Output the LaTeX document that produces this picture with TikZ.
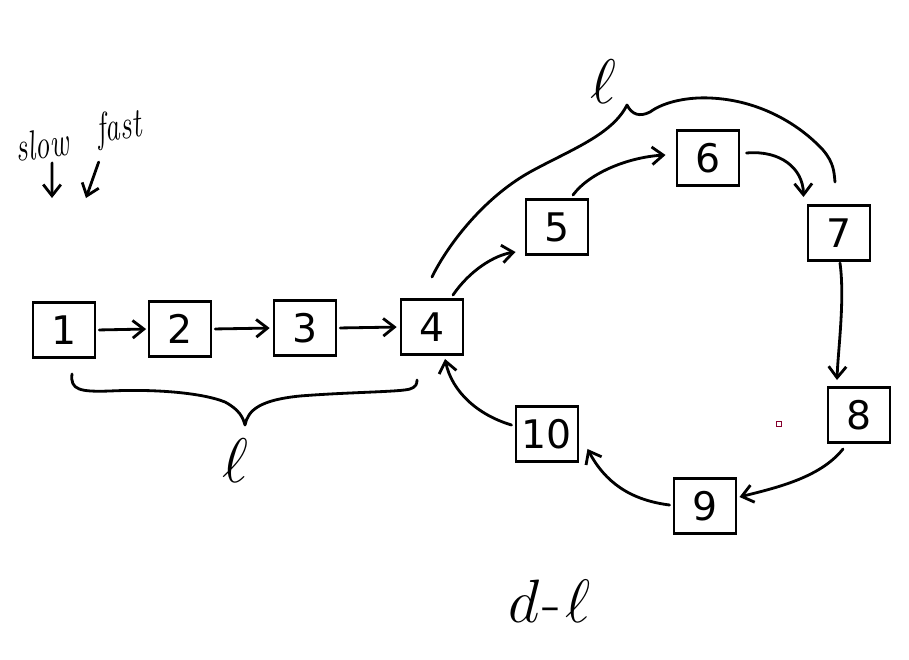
\documentclass[tikz,border=0pt]{standalone}
\usepackage{fontspec}
\newfontfamily\boxfont{DejaVu Sans}
\usetikzlibrary{arrows.meta,calc}
\tikzset{
  box/.style={draw, line width=2.1pt, minimum width=1.55cm, minimum height=1.375cm, inner sep=0pt,
    font=\boxfont\fontsize{28}{30}\selectfont},
  link/.style={line width=2pt, line cap=round, line join=round,
    -{Straight Barb[length=2.8mm,width=4.4mm]}},
  hand/.style={line width=2pt, line cap=round, line join=round},
  handtext/.style={inner sep=0pt, font=\itshape\fontsize{22}{24}\selectfont},
  elltext/.style={inner sep=0pt, font=\Huge},
}
\begin{document}
\begin{tikzpicture}[x=0.025cm,y=-0.025cm]
\useasboundingbox (0,0) rectangle (909,659);

% list nodes
\node[box] (n1) at (64,330) {1};
\node[box] (n2) at (180,329) {2};
\node[box] (n3) at (305,328) {3};
\node[box] (n4) at (432,327) {4};
\node[box] (n5) at (557,227) {5};
\node[box] (n6) at (708,158) {6};
\node[box] (n7) at (839,233) {7};
\node[box] (n8) at (859,415) {8};
\node[box] (n9) at (705,506) {9};
\node[box] (n10) at (547,434) {10};

% connectors
\draw[link, shorten <=2pt, shorten >=1pt] (n1.east) -- (n2.west);
\draw[link, shorten <=2pt, shorten >=2pt] (n2.east) -- (n3.west);
\draw[link, shorten <=2pt, shorten >=2pt] (n3.east) -- (n4.west);
\draw[link] ($(n4.north)+(21,-3)$) .. controls (470,270) and (495,255) .. ($(n5.south west)+(-9,-4)$);
\draw[link] ($(n5.north)+(16,-3)$) .. controls (590,172) and (630,157) .. ($(n6.west)+(-10,-3)$);
\draw[link] ($(n6.east)+(6,-5)$) .. controls (780,150) and (803,168) .. ($(n7.north west)+(-3,-7)$);
\draw[link] ($(n7.south)+(1,1)$) .. controls (845,300) and (838,350) .. ($(n8.north)+(-22,-6)$);
\draw[link] ($(n8.south)+(-16,5)$) .. controls (820,478) and (775,488) .. ($(n9.east)+(2,-9)$);
\draw[link] ($(n9.west)+(-3,-1)$) .. controls (630,500) and (605,482) .. ($(n10.south east)+(8,-14)$);
\draw[link] ($(n10.west)+(-3,-9)$) .. controls (478,415) and (452,392) .. ($(n4.south)+(13,3)$);

% top brace
\draw[hand] ($(n4.north)+(0,-21)$) .. controls (445,250) and (480,200) .. (530,172)
  .. controls (570,150) and (612,135) .. (627,105)
  .. controls (632,115) and (640,117) .. (650,112)
  .. controls (665,101) and (690,97) .. (710,98)
  .. controls (760,100) and (800,125) .. (823,150)
  .. controls (834,163) and (834,172) .. (835,182);

% bottom brace
\draw[hand] ($(n1.south)+(8,15)$) .. controls (70,390) and (80,392) .. (110,391)
  .. controls (150,389) and (200,392) .. (225,402)
  .. controls (240,410) and (243,418) .. (245,425)
  .. controls (248,410) and (260,400) .. (300,396)
  .. controls (350,392) and (400,392) .. (410,389)
  .. controls (416,387) and (417,384) .. (417,380);

% labels
\node[elltext] (ltop) at (603,82) {\scalebox{1.8}{$\ell$}};
\node[elltext] (lbot) at (235,461) {\scalebox{1.8}{$\ell$}};
\node[elltext] (dl) at (550,601) {\scalebox{1.75}{$d$\kern1pt-\kern2pt$\ell$}};

\node[handtext, rotate=8] (slow) at (42,144) {\scalebox{0.95}[1.35]{slow}};
\node[handtext, rotate=8] (fast) at (119,129) {\scalebox{0.95}[1.35]{fast}};
\coordinate (sa) at (52,198);
\coordinate (fa) at (86,198);
\draw[link] ($(slow.south)+(8,4)$) -- (sa);
\draw[link] ($(fast.south)+(-23,14)$) -- (fa);

% small speck
\draw[purple!70!black, line width=0.4pt] (776.5,421.5) rectangle (781.5,426.5);
\end{tikzpicture}
\end{document}
